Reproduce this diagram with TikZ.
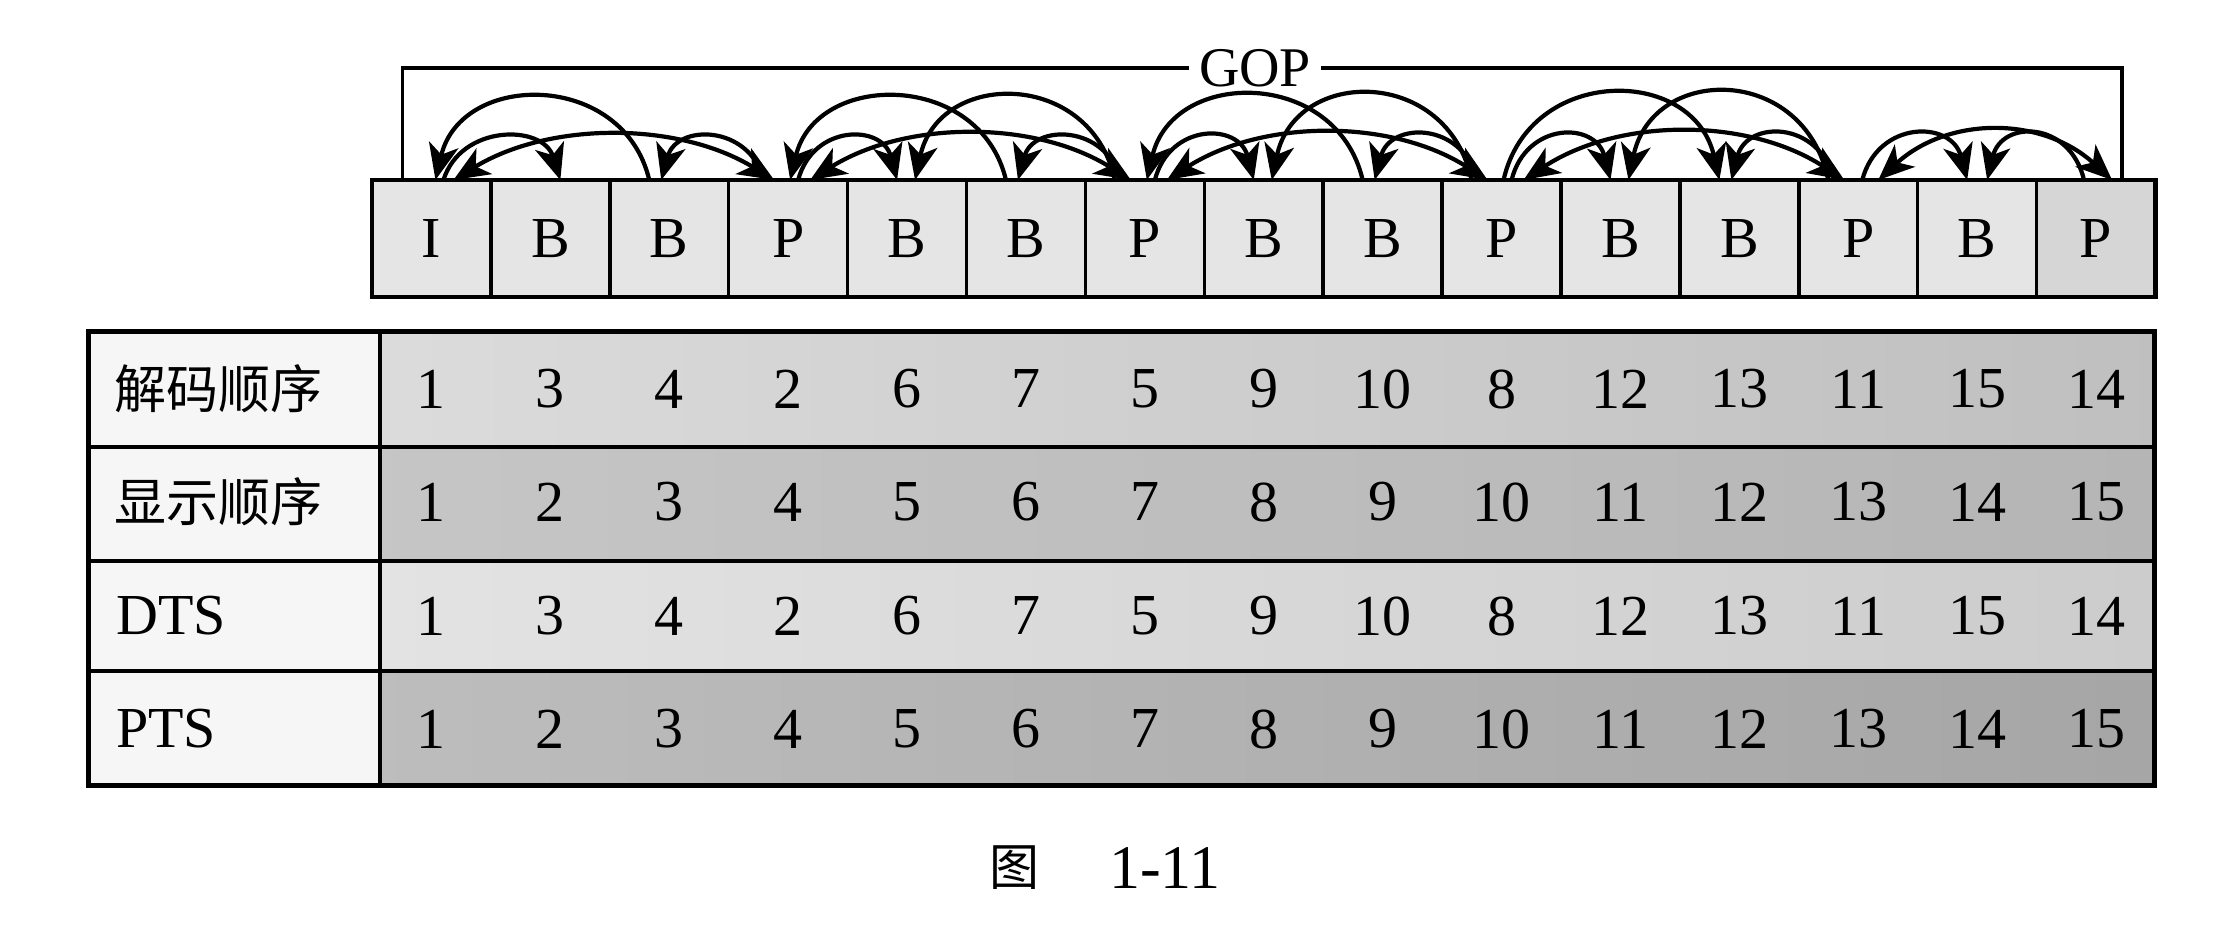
\documentclass[tikz,border=0pt]{standalone}
\usepackage{fontspec}
\setmainfont{Liberation Serif}
\newfontfamily\cjk{Noto Sans CJK SC}
\usetikzlibrary{arrows.meta,calc}
\newcommand\garc[7]{%
  \pgfmathsetmacro\gs{((#4)-(#2))*118.9+(#5)-(#3)}%
  \pgfmathsetmacro\ga{(#7)*\gs}%
  \pgfmathsetmacro\gb{-\ga}%
  \pgfmathsetmacro\gk{4*(#6)/3}%
  \draw[arcline,#1] ($(f#2.north)+(#3,0)$) .. controls +(\ga,-\gk) and +(\gb,-\gk) .. ($(f#4.north)+(#5,0)$);
}
\begin{document}
\begin{tikzpicture}[x=1pt,y=-1pt,
  gopbox/.style={draw, line width=3.5pt, fill=gray!20, minimum width=118.9pt, minimum height=117pt,
    inner sep=0pt, outer sep=0pt, font=\fontsize{58}{60}\selectfont},
  arcline/.style={line width=4.2pt, >={Stealth[length=36pt,width=30pt,inset=10pt]}},
  num/.style={font=\fontsize{58}{60}\selectfont, inner sep=0pt},
  lab/.style={anchor=west, inner sep=0pt, font=\fontsize{58}{60}\selectfont},
  clab/.style={anchor=west, inner sep=0pt, font=\cjk\fontsize{52}{54}\selectfont},
  rule/.style={line width=3.5pt}
]
\useasboundingbox (0,0) rectangle (2237,933);
\fill[white] (0,0) rectangle (2237,933);

% frames
\foreach \t [count=\i from 0] in {I,B,B,P,B,B,P,B,B,P,B,B,P,B,P}
  \node[gopbox] (f\i) at ({372+118.9*(\i+0.5)},238.5) {\t};
\fill[gray!32] ($(f14.north west)+(1.75,1.75)$) rectangle ($(f14.south east)+(-1.75,-1.75)$);
\node[font=\fontsize{58}{60}\selectfont, inner sep=0pt] (p14) at (f14) {P};
\draw[line width=3.5pt] (f14.north west) rectangle (f14.south east);
\draw[line width=4.5pt] (f0.north west) rectangle (f14.south east);

% GOP bracket
\node[font=\fontsize{56}{58}\selectfont, inner xsep=10pt, inner ysep=0pt] (gop) at (1255,68) {GOP};
\draw[rule] ($(f0.north)+(-29,0)$) |- (gop.west);
\draw[rule] (gop.east) -| ($(f14.north)+(26,0)$);

% arcs group 1
\garc{->}{0}{12}{1}{10}{42}{0.15}
\garc{<-}{0}{4}{2}{-20}{82}{0.12}
\garc{<->}{0}{22}{3}{-14}{44}{0.3}
\garc{->}{3}{-24}{2}{-8}{42}{0.15}
% group 2
\garc{->}{3}{10}{4}{-10}{42}{0.15}
\garc{<-}{3}{2}{5}{-20}{82}{0.12}
\garc{->}{6}{-30}{4}{8}{83}{0.12}
\garc{<->}{3}{22}{6}{-14}{45}{0.3}
\garc{->}{6}{-24}{5}{-8}{42}{0.15}
% group 3
\garc{->}{6}{10}{7}{-10}{43}{0.15}
\garc{<-}{6}{2}{8}{-20}{84}{0.12}
\garc{->}{9}{-30}{7}{8}{85}{0.12}
\garc{<->}{6}{22}{9}{-14}{46}{0.3}
\garc{->}{9}{-24}{8}{-8}{44}{0.15}
% group 4
\garc{->}{9}{10}{10}{-10}{44}{0.15}
\garc{->}{9}{2}{11}{-20}{86}{0.12}
\garc{->}{12}{-30}{10}{8}{87}{0.12}
\garc{<->}{9}{22}{12}{-14}{47}{0.3}
\garc{->}{12}{-24}{11}{-8}{45}{0.15}
% group 5
\garc{->}{12}{4}{13}{-10}{45}{0.15}
\garc{<->}{12}{20}{14}{16}{48}{0.3}
\garc{->}{14}{-12}{13}{10}{45}{0.15}

% table
\fill[gray!7] (88,331) rectangle (380,785);
\shade[left color=gray!28, right color=gray!50] (380,331) rectangle (2154,447);
\shade[left color=gray!45, right color=gray!58] (380,447) rectangle (2154,561);
\shade[left color=gray!22, right color=gray!40] (380,561) rectangle (2154,671);
\shade[left color=gray!52, right color=gray!70] (380,671) rectangle (2154,785);
\draw[line width=5pt] (88,331) rectangle (2154,785);
\draw[rule] (380,331) -- (380,785);
\draw[rule] (88,447) -- (2154,447);
\draw[rule] (88,561) -- (2154,561);
\draw[rule] (88,671) -- (2154,671);

\node[clab] (l1) at (114,389) {解码顺序};
\node[clab] (l2) at (114,502) {显示顺序};
\node[lab] (l3) at (116,616) {DTS};
\node[lab] (l4) at (116,729) {PTS};

\foreach \v [count=\i from 0] in {1,3,4,2,6,7,5,9,10,8,12,13,11,15,14}
  \node[num] (a\i) at ({372+118.9*(\i+0.5)},389) {\v};
\foreach \v [count=\i from 0] in {1,...,15}
  \node[num] (b\i) at ({372+118.9*(\i+0.5)},502) {\v};
\foreach \v [count=\i from 0] in {1,3,4,2,6,7,5,9,10,8,12,13,11,15,14}
  \node[num] (c\i) at ({372+118.9*(\i+0.5)},616) {\v};
\foreach \v [count=\i from 0] in {1,...,15}
  \node[num] (d\i) at ({372+118.9*(\i+0.5)},729) {\v};

% caption
\node[font=\cjk\fontsize{50}{52}\selectfont, inner sep=0pt] (cap1) at (1014,868) {图};
\node[font=\fontsize{62}{64}\selectfont, inner sep=0pt] (cap2) at (1165,868) {1-11};
\end{tikzpicture}
\end{document}
